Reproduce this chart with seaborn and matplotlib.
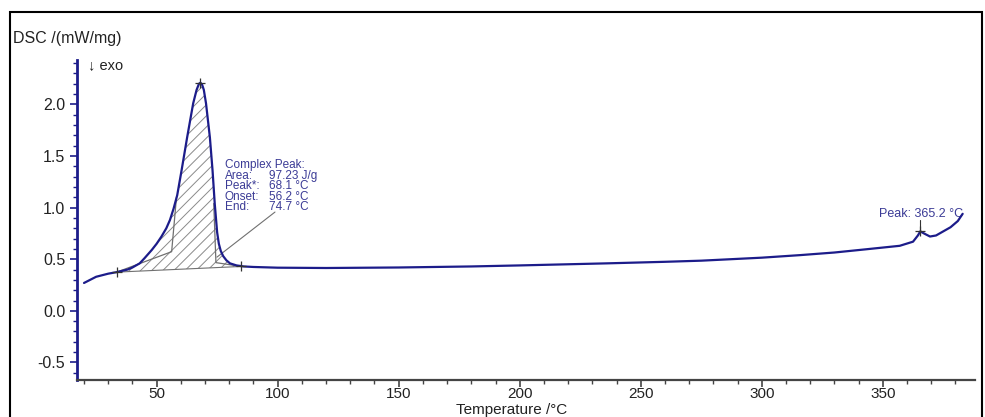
import numpy as np
import pandas as pd
import matplotlib
matplotlib.use("Agg")
import matplotlib.pyplot as plt
from matplotlib.patches import Rectangle
from matplotlib.ticker import MultipleLocator
import seaborn as sns

# ---- data ----
temperature = [20, 25, 30, 33.5, 38, 40, 43, 45, 48, 50, 52, 54, 55.5, 57, 58.5,
               60.3, 62.6, 65.1, 66.5, 67.5, 68.1, 68.8, 69.5, 70.4, 72, 73.1, 74,
               75, 75.7, 76.5, 77.5, 78.8, 80.3, 83, 86, 90, 100, 120, 150, 180,
               200, 218, 236, 260, 275, 300, 316, 330, 343, 357, 362.5, 364.5,
               365.5, 367, 369.5, 372, 375, 378, 381, 383]
dsc = [0.27, 0.33, 0.36, 0.375, 0.40, 0.42, 0.46, 0.51, 0.59, 0.65, 0.72, 0.80,
       0.88, 0.99, 1.12, 1.36, 1.68, 2.01, 2.14, 2.20, 2.21, 2.19, 2.14, 2.01,
       1.68, 1.36, 1.04, 0.76, 0.65, 0.58, 0.53, 0.49, 0.46, 0.44, 0.43, 0.425,
       0.418, 0.415, 0.42, 0.43, 0.44, 0.45, 0.46, 0.475, 0.486, 0.515, 0.54,
       0.565, 0.596, 0.63, 0.67, 0.73, 0.77, 0.75, 0.72, 0.73, 0.77, 0.81, 0.87,
       0.94]

peak1_start = (33.5, 0.375)
peak1_end = (85.0, 0.43)
peak1_top = (68.1, 2.21)
peak2_top = (365.5, 0.77)

annotation_labels = ["Area:", "Peak*:", "Onset:", "End:"]
annotation_values = ["97.23 J/g", "68.1 °C", "56.2 °C", "74.7 °C"]
peak2_label = "Peak: 365.2 °C"

x_ticks = [50, 100, 150, 200, 250, 300, 350]
y_ticks = [-0.5, 0.0, 0.5, 1.0, 1.5, 2.0]

# ---- style ----
sns.set_theme(style="white")
plt.rcParams["font.family"] = ["Liberation Sans", "DejaVu Sans"]
plt.rcParams["hatch.linewidth"] = 0.7

NAVY = "#1c1c8a"
TXT_BLUE = "#3b3b96"
GRAY = "#707070"

W, H = 985, 417
fig = plt.figure(figsize=(W / 100, H / 100), dpi=100)
ax = fig.add_axes([77 / W, 1 - 380 / H, (975 - 77) / W, (380 - 60) / H])

df = pd.DataFrame({"Temperature": temperature, "DSC": dsc})
sns.lineplot(data=df, x="Temperature", y="DSC", ax=ax, color=NAVY, lw=1.6,
             sort=False, estimator=None, zorder=5)

# hatched peak area between curve and straight baseline
t = np.array(temperature)
v = np.array(dsc)
mask = (t >= peak1_start[0]) & (t <= peak1_end[0])
tt = np.concatenate([[peak1_start[0]], t[mask], [peak1_end[0]]])
vv = np.concatenate([[peak1_start[1]], v[mask], [peak1_end[1]]])
base = np.interp(tt, [peak1_start[0], peak1_end[0]], [peak1_start[1], peak1_end[1]])
ax.fill_between(tt, base, vv, facecolor="none", edgecolor="#8a8a8a", hatch="///",
                linewidth=0, zorder=2)
ax.plot([peak1_start[0], peak1_end[0]], [peak1_start[1], peak1_end[1]],
        color=GRAY, lw=0.8, zorder=3)

# construction lines (onset / end)
ax.plot([peak1_start[0], 56.2, 58.2], [peak1_start[1], 0.573, 1.10], color=GRAY, lw=0.9, zorder=3)
ax.plot([peak1_end[0], 74.5, 73.6], [peak1_end[1], 0.467, 1.04], color=GRAY, lw=0.9, zorder=3)

# markers
for (mx, my) in [peak1_start, peak1_end, peak1_top, peak2_top]:
    ax.plot(mx, my, marker="+", color="#333333", ms=7, mew=0.9, zorder=6)

# annotation block
ax.plot([98.9, 74.9], [0.957, 0.52], color=GRAY, lw=0.8, zorder=3)
ax.text(78.2, 1.41, "Complex Peak:", color=TXT_BLUE, fontsize=8.5, va="center", ha="left")
for i, (lab, val) in enumerate(zip(annotation_labels, annotation_values)):
    y = 1.41 - 0.102 * (i + 1)
    ax.text(78.2, y, lab, color=TXT_BLUE, fontsize=8.5, va="center", ha="left")
    ax.text(96.4, y, val, color=TXT_BLUE, fontsize=8.5, va="center", ha="left")

ax.plot([peak2_top[0], peak2_top[0]], [0.88, peak2_top[1]], color="#333333", lw=0.8, zorder=6)
ax.text(366.0, 0.94, peak2_label, color=TXT_BLUE, fontsize=9, va="center", ha="center")

# axes
ax.set_xlim(17.1, 388.1)
ax.set_ylim(-0.67, 2.43)
ax.set_xticks(x_ticks)
ax.set_yticks(y_ticks)
ax.set_yticklabels([f"{y:.1f}" for y in y_ticks])
ax.xaxis.set_minor_locator(MultipleLocator(10))
ax.yaxis.set_minor_locator(MultipleLocator(0.1))
ax.tick_params(axis="both", which="major", labelsize=11.5, labelcolor="#222222",
               direction="out", length=5, width=1.2)
ax.tick_params(axis="both", which="minor", direction="out", length=3, width=1.0)
ax.tick_params(axis="y", which="both", color=NAVY, left=True)
ax.tick_params(axis="x", which="both", color="#444444", bottom=True)
ax.tick_params(axis="x", which="major", pad=0, labelsize=11)
for s in ["top", "right"]:
    ax.spines[s].set_visible(False)
ax.spines["left"].set_color(NAVY)
ax.spines["left"].set_linewidth(2.0)
ax.spines["bottom"].set_color("#444444")
ax.spines["bottom"].set_linewidth(1.6)
ax.set_ylabel("")
ax.set_xlabel("Temperature /°C", fontsize=11, color="#222222", labelpad=0)
ax.xaxis.set_label_coords((512 - 77) / 898, -0.072)

fig.text(13 / W, 1 - 38 / H, "DSC /(mW/mg)", fontsize=11.5, color="#222222",
         ha="left", va="center")
fig.text(88 / W, 1 - 65 / H, "↓ exo", fontsize=10.5, color="#222222",
         ha="left", va="center")

# outer frame
fig.patches.append(Rectangle((10 / W, -0.02), (982 - 10) / W, 1.02 - 12 / H,
                             transform=fig.transFigure, fill=False,
                             edgecolor="black", lw=1.5, zorder=0))

fig.savefig("out.png", dpi=100)
